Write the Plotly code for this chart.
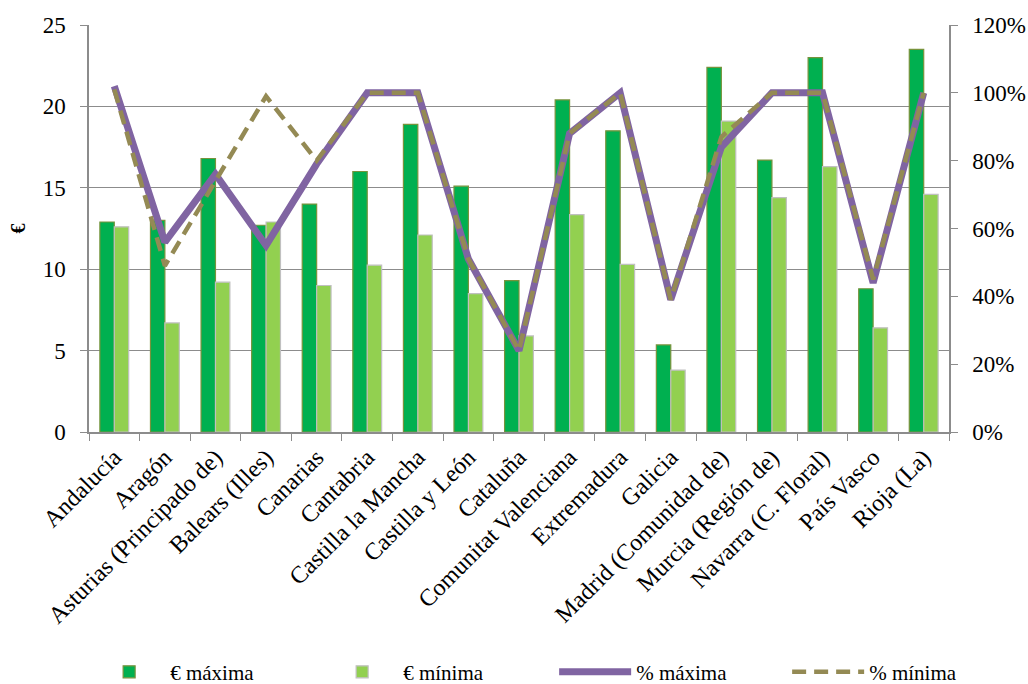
import plotly.graph_objects as go

# Comunidades autónomas
regiones = [
    "Andalucía", "Aragón", "Asturias (Principado de)", "Balears (Illes)",
    "Canarias", "Cantabria", "Castilla la Mancha", "Castilla y León",
    "Cataluña", "Comunitat Valenciana", "Extremadura", "Galicia",
    "Madrid (Comunidad de)", "Murcia (Región de)", "Navarra (C. Floral)",
    "País Vasco", "Rioja (La)",
]

# Importes en euros
eur_maxima = [12.9, 13.0, 16.8, 12.7, 14.0, 16.0, 18.9, 15.1, 9.3,
              20.4, 18.5, 5.35, 22.4, 16.7, 23.0, 8.8, 23.5]
eur_minima = [12.6, 6.7, 9.2, 12.9, 9.0, 10.25, 12.1, 8.5, 5.9,
              13.35, 10.3, 3.8, 19.1, 14.4, 16.3, 6.4, 14.6]

# Porcentajes
pct_maxima = [102, 56, 76, 55, 79, 100, 100, 51, 24,
              88, 100, 39, 84, 100, 100, 44, 100]
pct_minima = [101, 49, 74, 99, 80, 100, 100, 51, 24,
              88, 100, 39, 87, 100, 100, 45, 100]

font_serif = "Liberation Serif"
grid_col = "#8c8c8c"

fig = go.Figure()
fig.add_trace(go.Bar(
    x=regiones, y=eur_maxima, name="€ máxima",
    marker=dict(color="#00b050", line=dict(color="#77933c", width=1.2)),
))
fig.add_trace(go.Bar(
    x=regiones, y=eur_minima, name="€ mínima",
    marker=dict(color="#92d050", line=dict(color="#c0c0c0", width=1.2)),
))
fig.add_trace(go.Scatter(
    x=regiones, y=pct_maxima, name="% máxima", yaxis="y2",
    mode="lines", line=dict(color="#8064a2", width=7),
))
fig.add_trace(go.Scatter(
    x=regiones, y=pct_minima, name="% mínima", yaxis="y2",
    mode="lines", line=dict(color="#948a54", width=4.5, dash="14px,8px"),
))

fig.update_layout(
    template="none",
    width=1028, height=684,
    margin=dict(l=89, r=79, t=25, b=252, autoexpand=False),
    paper_bgcolor="white", plot_bgcolor="white",
    font=dict(family=font_serif, size=22, color="black"),
    barmode="group", bargap=0.43, bargroupgap=0,
    showlegend=True,
    legend=dict(
        orientation="h", x=-0.001, xanchor="left",
        y=-0.59, yanchor="middle",
        font=dict(size=21), entrywidth=146, entrywidthmode="pixels",
        itemwidth=72, bgcolor="rgba(0,0,0,0)",
    ),
    xaxis=dict(
        type="category", tickangle=-45, showline=True, linecolor=grid_col,
        linewidth=1.5, ticks="outside", tickson="boundaries", ticklen=7,
        tickcolor=grid_col, showgrid=False, tickfont=dict(size=24),
        automargin=False,
    ),
    yaxis=dict(
        range=[0, 25], dtick=5, showgrid=True, gridcolor=grid_col,
        gridwidth=1.2, showline=True, linecolor=grid_col, linewidth=1.5,
        ticks="outside", ticklen=7, tickcolor=grid_col, zeroline=False,
        tickfont=dict(size=23), automargin=False, ticklabelstandoff=10,
        title=dict(text="<b>€</b>", font=dict(size=20), standoff=12),
    ),
    yaxis2=dict(
        overlaying="y", side="right", range=[0, 120], dtick=20,
        ticksuffix="%", showgrid=False, showline=True, linecolor=grid_col,
        linewidth=1.5, ticks="outside", ticklen=7, tickcolor=grid_col,
        zeroline=False, tickfont=dict(size=23), automargin=False,
        ticklabelstandoff=10,
    ),
)

fig.write_html("out.html")
